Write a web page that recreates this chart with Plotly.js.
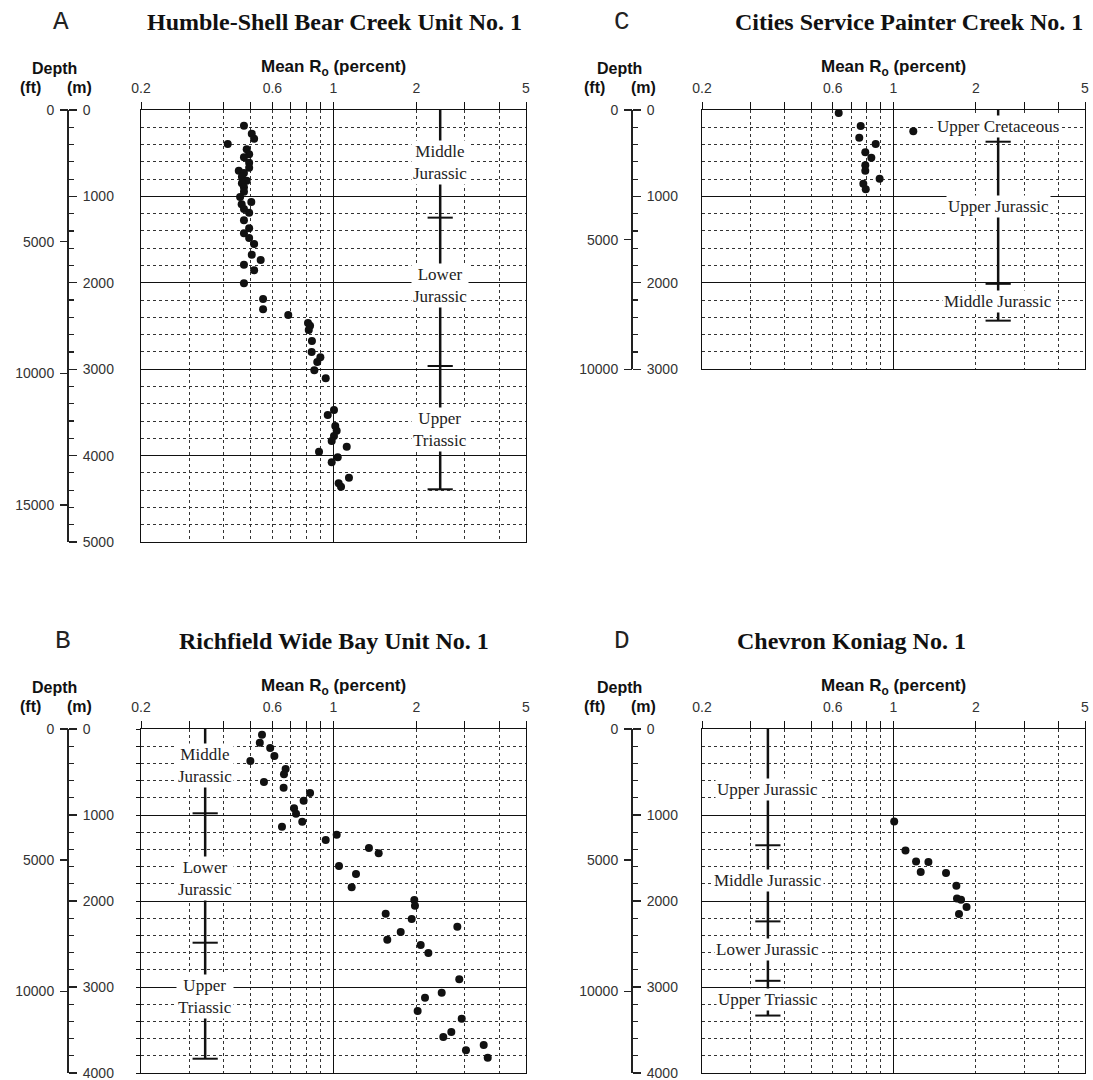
<!DOCTYPE html>
<html><head><meta charset="utf-8">
<script src="https://cdn.plot.ly/plotly-3.0.1.min.js"></script>
<style>html,body{margin:0;padding:0;background:#fff}#chart{width:1093px;height:1080px}</style>
</head><body><div id="chart"></div>
<script>
// ---------- DATA ----------
// Panel A: Humble-Shell Bear Creek Unit No. 1
const A_ro = [0.473,0.505,0.515,0.413,0.484,0.494,0.473,0.494,0.494,0.453,0.473,0.465,0.484,0.465,0.473,0.473,0.458,0.503,0.464,0.473,0.494,0.473,0.494,0.473,0.494,0.515,0.505,0.544,0.473,0.515,0.473,0.555,0.555,0.685,0.808,0.822,0.813,0.835,0.833,0.896,0.873,0.852,0.937,1.004,0.953,1.015,1.027,1.004,0.985,1.117,0.886,1.036,0.985,1.138,1.044,1.065];
const A_depth = [182,274,332,394,455,513,548,610,668,702,729,772,818,849,895,945,1007,1065,1092,1146,1188,1277,1369,1427,1481,1551,1674,1736,1790,1856,2006,2188,2307,2373,2465,2496,2546,2674,2801,2862,2917,3013,3106,3472,3530,3657,3712,3773,3831,3897,3955,4020,4078,4256,4321,4360];
const A_units = ['Middle<br>Jurassic','Lower<br>Jurassic','Upper<br>Triassic'];
const A_unitDepth = [613,2031,3698];
const A_bounds = [0,1246,2963,4390];
const A_unitRo = 2.44;

// Panel C: Cities Service Painter Creek No. 1
const C_ro = [0.631,0.759,1.181,0.750,0.861,0.789,0.830,0.789,0.789,0.890,0.776,0.792];
const C_depth = [35,185,247,320,394,490,552,640,702,795,853,918];
const C_units = ['Upper Cretaceous','Upper Jurassic','Middle Jurassic'];
const C_unitDepth = [193,1119,2222];
const C_bounds = [0,367,2012,2438];
const C_unitRo = 2.41;

// Panel B: Richfield Wide Bay Unit No. 1
const B_ro = [0.550,0.540,0.589,0.610,0.499,0.670,0.661,0.559,0.659,0.822,0.779,0.719,0.731,0.770,0.650,1.027,0.937,1.345,1.459,1.047,1.207,1.164,1.965,1.976,1.547,1.923,2.816,1.754,1.568,2.073,2.210,2.862,2.471,2.149,2.021,2.921,2.678,2.504,3.511,3.027,3.631];
const B_depth = [66,159,221,314,372,465,527,616,682,744,834,922,985,1078,1136,1229,1291,1384,1446,1593,1686,1841,1988,2054,2148,2209,2299,2360,2450,2512,2605,2910,3066,3124,3279,3369,3523,3581,3674,3736,3822];
const B_units = ['Middle<br>Jurassic','Lower<br>Jurassic','Upper<br>Triassic'];
const B_unitDepth = [430,1742,3116];
const B_bounds = [0,980,2485,3834];
const B_unitRo = 0.342;

// Panel D: Chevron Koniag No. 1
const D_ro = [1.006,1.106,1.209,1.341,1.257,1.555,1.696,1.705,1.764,1.848,1.734];
const D_depth = [1077,1414,1542,1546,1662,1674,1822,1970,1985,2070,2151];
const D_units = ['Upper Jurassic','Middle Jurassic','Lower Jurassic','Upper Triassic'];
const D_unitDepth = [708,1764,2559,3141];
const D_bounds = [0,1352,2237,2928,3332];
const D_unitRo = 0.348;

// Axis ticks
const roLabelTicks = [0.2,0.6,1,2,5];
const roMinorGrid = [0.3,0.4,0.5,0.6,0.7,0.8,0.9,2,3,4];
const roSolid = [0.2,1,5];
const ftTicks = [0,5000,10000,15000];
const ftTickText = ['0','5000','10000','15000'];
const M_TO_FT = 3.28084;

// ---------- LAYOUT ----------
const W = 1093, H = 1080;
const panels = [
  {letter:'A', title:'Humble-Shell Bear Creek Unit No. 1', ro:A_ro, depth:A_depth, units:A_units, unitDepth:A_unitDepth, bounds:A_bounds, unitRo:A_unitRo,
   maxDepth:5000, ftMax:5000*M_TO_FT, fx0:141, fx1:526, fy0:110, scale:0.0864, axX:68, letterX:61, titleX:334, titleAnchor:'center', top:0, yTicks:''},
  {letter:'C', title:'Cities Service Painter Creek No. 1', ro:C_ro, depth:C_depth, units:C_units, unitDepth:C_unitDepth, bounds:C_bounds, unitRo:C_unitRo,
   maxDepth:3000, ftMax:10000, fx0:702, fx1:1085, fy0:110, scale:0.0864, axX:632, letterX:622, titleX:733, titleAnchor:'left', top:0, yTicks:''},
  {letter:'B', title:'Richfield Wide Bay Unit No. 1', ro:B_ro, depth:B_depth, units:B_units, unitDepth:B_unitDepth, bounds:B_bounds, unitRo:B_unitRo,
   maxDepth:4000, ftMax:4000*M_TO_FT, fx0:141, fx1:526, fy0:729, scale:0.086, axX:68, letterX:63, titleX:334, titleAnchor:'center', top:619, yTicks:'outside'},
  {letter:'D', title:'Chevron Koniag No. 1', ro:D_ro, depth:D_depth, units:D_units, unitDepth:D_unitDepth, bounds:D_bounds, unitRo:D_unitRo,
   maxDepth:4000, ftMax:4000*M_TO_FT, fx0:702, fx1:1085, fy0:729, scale:0.086, axX:632, letterX:622, titleX:735, titleAnchor:'left', top:619, yTicks:''}
];

const ink = '#111';
const gridC = '#333';
const sans = 'Liberation Sans, Arial, sans-serif';
const serif = 'Liberation Serif, Times New Roman, serif';
const logRange = [Math.log10(0.2), Math.log10(5)];

const traces = [];
const layout = {
  width: W, height: H, margin: {l:0, r:0, t:0, b:0},
  paper_bgcolor: '#fff', plot_bgcolor: 'rgba(0,0,0,0)',
  showlegend: false, font: {family: sans, color: '#222'},
  annotations: []
};
const pyN = y => 1 - y / H;
const txt = (x, y, text, font, extra) => Object.assign({xref: 'paper', yref: 'paper', x: x / W, y: pyN(y), text: text,
  xanchor: 'center', yanchor: 'middle', showarrow: false, font: font}, extra || {});

panels.forEach((p, i) => {
  const nxd = 2*i + 1, nxl = 2*i + 2;
  const nyd = 3*i + 1, nym = 3*i + 2, nyf = 3*i + 3;
  const xd = nxd === 1 ? 'x' : 'x' + nxd, xl = 'x' + nxl;
  const yd = nyd === 1 ? 'y' : 'y' + nyd, ym = 'y' + nym, yf = 'y' + nyf;
  const xKey = n => n === 1 ? 'xaxis' : 'xaxis' + n;
  const yKey = n => n === 1 ? 'yaxis' : 'yaxis' + n;
  const yBottom = p.fy0 + p.maxDepth * p.scale;
  const yDomain = [pyN(yBottom), pyN(p.fy0)];
  const xDomain = [p.fx0 / W, p.fx1 / W];

  layout[xKey(nxd)] = {
    type: 'log', range: logRange, domain: xDomain, anchor: yd, side: 'top',
    showline: true, mirror: true, linecolor: ink, linewidth: 1,
    tickmode: 'array', tickvals: roSolid, showticklabels: false,
    ticks: 'outside', ticklen: 7, tickcolor: ink, tickwidth: 1,
    showgrid: true, gridcolor: ink, gridwidth: 1, zeroline: false, fixedrange: true,
    minor: {tickmode: 'array', tickvals: roMinorGrid, ticks: 'outside', ticklen: 7, tickcolor: ink, tickwidth: 1,
            showgrid: true, gridcolor: gridC, griddash: 'dot', gridwidth: 1}
  };
  layout[xKey(nxl)] = {
    type: 'log', range: logRange, overlaying: xd, anchor: yd, side: 'top',
    tickmode: 'array', tickvals: roLabelTicks, ticktext: roLabelTicks.map(String),
    ticks: '', showgrid: false, showline: false, zeroline: false, fixedrange: true,
    tickfont: {family: sans, size: 14, color: '#333'}, ticklabelstandoff: 13
  };
  layout[yKey(nyd)] = {
    range: [p.maxDepth, 0], domain: yDomain, anchor: xd,
    tickmode: 'linear', tick0: 0, dtick: 1000, showticklabels: false,
    ticks: p.yTicks, ticklen: 4, tickcolor: ink,
    showgrid: true, gridcolor: ink, gridwidth: 1, zeroline: false,
    showline: true, mirror: true, linecolor: ink, linewidth: 1, fixedrange: true,
    minor: {tick0: 0, dtick: 200, showgrid: true, gridcolor: gridC, griddash: 'dot', gridwidth: 1,
            ticks: p.yTicks, ticklen: 4, tickcolor: ink}
  };
  layout[yKey(nym)] = {
    range: [p.maxDepth, 0], overlaying: yd, anchor: 'free', position: p.axX / W, side: 'right',
    tickmode: 'linear', tick0: 0, dtick: 1000, ticks: 'outside', ticklen: 8, tickwidth: 1.2, tickcolor: '#222',
    showline: true, linewidth: 2, linecolor: '#222', showgrid: false, zeroline: false, fixedrange: true,
    tickformat: 'd', tickfont: {family: sans, size: 14, color: '#333'}, ticklabelstandoff: 3,
    ticklabeloverflow: 'allow',
    minor: {tick0: 0, dtick: 200, ticks: 'outside', ticklen: 5, tickwidth: 1.2, tickcolor: '#222', showgrid: false}
  };
  layout[yKey(nyf)] = {
    range: [p.ftMax, 0], overlaying: yd, anchor: 'free', position: p.axX / W, side: 'left',
    tickmode: 'array', tickvals: ftTicks, ticktext: ftTickText, ticks: 'outside', ticklen: 8, tickwidth: 1.2, tickcolor: '#222',
    showline: false, showgrid: false, zeroline: false, fixedrange: true, ticklabeloverflow: 'allow',
    tickfont: {family: sans, size: 14, color: '#333'}, ticklabelstandoff: 3
  };

  // invisible companions so the overlay axes get drawn
  const ghost = {type: 'scatter', mode: 'markers', marker: {size: 1, opacity: 0}, hoverinfo: 'skip'};
  traces.push(Object.assign({}, ghost, {x: p.ro, y: p.depth, xaxis: xl, yaxis: yd}));
  traces.push(Object.assign({}, ghost, {x: p.ro, y: p.depth, xaxis: xd, yaxis: ym}));
  traces.push(Object.assign({}, ghost, {x: p.ro, y: p.depth.map(d => d * M_TO_FT), xaxis: xd, yaxis: yf}));

  // data points
  traces.push({type: 'scatter', mode: 'markers', x: p.ro, y: p.depth, xaxis: xd, yaxis: yd,
    marker: {size: 8, color: ink}, hoverinfo: 'x+y', cliponaxis: false});
  // stratigraphic column
  const last = p.bounds[p.bounds.length - 1];
  traces.push({type: 'scatter', mode: 'lines', x: [p.unitRo, p.unitRo], y: [p.bounds[0], last],
    xaxis: xd, yaxis: yd, line: {color: ink, width: 2.5}, hoverinfo: 'skip'});
  traces.push({type: 'scatter', mode: 'markers', x: p.bounds.slice(1).map(() => p.unitRo), y: p.bounds.slice(1),
    xaxis: xd, yaxis: yd, marker: {symbol: 'line-ew', size: 18, line: {color: ink, width: 2}}, hoverinfo: 'skip', cliponaxis: false});
  // unit labels
  p.units.forEach((u, k) => {
    layout.annotations.push({xref: xd, yref: yd, x: Math.log10(p.unitRo), y: p.unitDepth[k], text: u,
      xanchor: 'center', yanchor: 'middle',
      showarrow: false, bgcolor: '#fff', borderpad: 1, font: {family: serif, size: 17, color: '#222'}, align: 'center'});
  });

  // texts
  const bold = s => ({family: sans, size: s, color: '#111', weight: 'bold'});
  layout.annotations.push(txt(p.letterX, 22 + p.top, p.letter, {family: 'Liberation Mono, DejaVu Sans Mono, monospace', size: 26, color: '#222'}));
  layout.annotations.push(txt(p.titleX, 22 + p.top, p.title, {family: serif, size: 24, color: '#111', weight: 'bold'}, {xanchor: p.titleAnchor}));
  layout.annotations.push(txt((p.fx0 + p.fx1) / 2, 68 + p.top, 'Mean R<sub>o</sub> (percent)', bold(17)));
  layout.annotations.push(txt(p.axX - 13, 68 + p.top, 'Depth', bold(16)));
  layout.annotations.push(txt(p.axX - 38, 87 + p.top, '(ft)', bold(16)));
  layout.annotations.push(txt(p.axX + 11, 87 + p.top, '(m)', bold(16)));
});

Plotly.newPlot('chart', traces, layout, {staticPlot: true, displayModeBar: false});
</script>
</body></html>
